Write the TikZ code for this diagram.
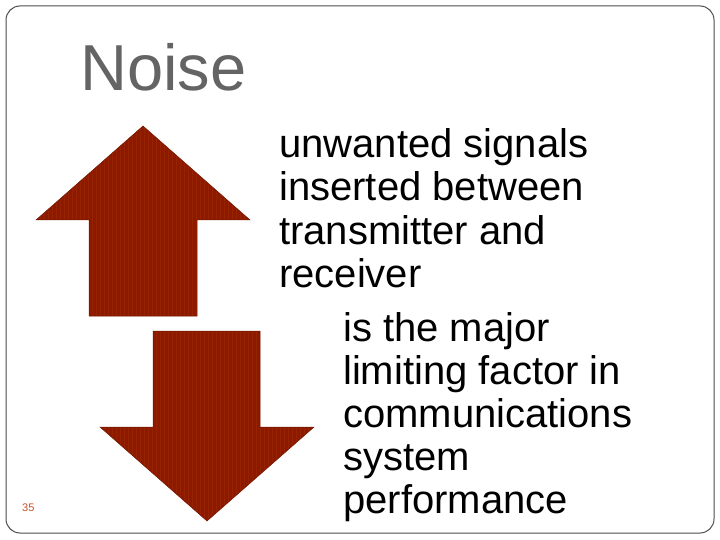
\documentclass[tikz,border=0pt]{standalone}
\usepackage{fontspec}
\setmainfont{Liberation Sans}
\definecolor{arr}{RGB}{140,26,0}
\definecolor{ttl}{RGB}{100,100,100}
\definecolor{num}{RGB}{200,80,40}
\begin{document}
\begin{tikzpicture}[x=1pt,y=-1pt,
 arrowshape/.style={fill=arr,draw=arr!80!black,line width=0.5pt,
   path picture={\foreach \i in {0,4,...,400}{\draw[arr!75!orange,line width=0.3pt,opacity=0.35] ([xshift=\i pt]path picture bounding box.south west) -- ([xshift=\i pt]path picture bounding box.north west);}}},
 body/.style={anchor=base west,font=\fontsize{40}{46}\selectfont,inner sep=0pt}]
\useasboundingbox (0,0) rectangle (720,540);
\draw[black!70,line width=1pt,rounded corners=14pt] (6,6) rectangle (714,533);
\node[anchor=base west,inner sep=0pt,text=ttl,font=\fontsize{65}{70}\selectfont] (title) at (80,91) {Noise};
\path[arrowshape] (143,126) -- (250,220) -- (197,220) -- (197,316) -- (89,316) -- (89,220) -- (36,220) -- cycle;
\path[arrowshape] (207,521) -- (314,427) -- (260,427) -- (260,331) -- (153,331) -- (153,427) -- (100,427) -- cycle;
\node[body] (l1) at (279,158) {unwanted signals};
\node[body] (l2) at (279,201) {inserted between};
\node[body] (l3) at (279,244) {transmitter and};
\node[body] (l4) at (279,287) {receiver};
\node[body] (m1) at (343,341) {is the major};
\node[body] (m2) at (343,384) {limiting factor in};
\node[body] (m3) at (343,427) {communications};
\node[body] (m4) at (343,470) {system};
\node[body] (m5) at (343,513) {performance};
\node[anchor=base west,inner sep=0pt,text=num,font=\fontsize{11}{13}\selectfont] (pg) at (22,511) {35};
\end{tikzpicture}
\end{document}
